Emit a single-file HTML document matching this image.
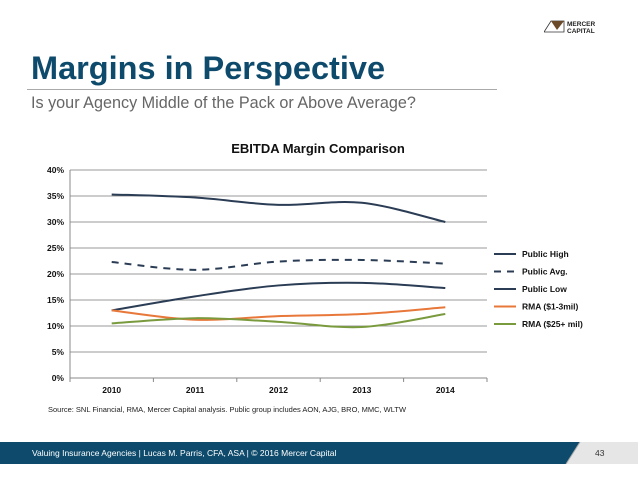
<!DOCTYPE html>
<html><head><meta charset="utf-8"><style>
body{margin:0;width:638px;height:479px;background:#fff;position:relative;overflow:hidden;font-family:"Liberation Sans",Arial,sans-serif}
.abs{position:absolute}
</style></head><body>
<div class="abs" style="left:544px;top:17px;width:80px;height:18px">
<svg width="80" height="18"><polygon points="0,15 7,4 20,4 20,15" fill="none" stroke="#333" stroke-width="0.8"/><polygon points="7,4 20,4 13,13" fill="#6b4a2a"/><text x="23" y="9" font-size="6.5" font-weight="bold" fill="#222" font-family="Liberation Sans">MERCER</text><text x="23" y="16" font-size="6.5" font-weight="bold" fill="#222" font-family="Liberation Sans">CAPITAL</text></svg></div>
<div class="abs" style="left:31px;top:50px;font-size:32.5px;font-weight:bold;color:#0d4a6b">Margins in Perspective</div>
<div class="abs" style="left:27px;top:89px;width:470px;height:1px;background:#aaa"></div>
<div class="abs" style="left:31px;top:94px;font-size:16.2px;color:#666">Is your Agency Middle of the Pack or Above Average?</div>
<svg class="abs" style="left:0;top:0" width="638" height="479">
<text x="318" y="153" text-anchor="middle" font-size="13" font-weight="bold" fill="#111">EBITDA Margin Comparison</text>
<g id="grid"></g><g id="lines"></g><g id="legend"></g>
<text x="48" y="412" font-size="7.5" fill="#222">Source: SNL Financial, RMA, Mercer Capital analysis.  Public group includes AON, AJG, BRO, MMC, WLTW</text>
</svg>
<div class="abs" style="left:0;top:442px;width:638px;height:22px;background:#0d4a6b"></div>
<svg class="abs" style="left:560px;top:442px" width="78" height="22"><polygon points="20,0 78,0 78,22 6,22" fill="#e6e6e6"/><line x1="20" y1="0" x2="6" y2="22" stroke="#aaa"/></svg>
<div class="abs" style="left:32px;top:448px;font-size:8.5px;color:#fff">Valuing Insurance Agencies | Lucas M. Parris, CFA, ASA | © 2016 Mercer Capital</div>
<div class="abs" style="left:595px;top:448px;font-size:8.5px;color:#333">43</div>
<script>
const categories=["2010","2011","2012","2013","2014"];
const yTicks=[0,5,10,15,20,25,30,35,40];
const seriesNames=["Public High","Public Avg.","Public Low","RMA ($1-3mil)","RMA ($25+ mil)"];
const publicHigh=[35.3,34.7,33.3,33.7,30.0];
const publicAvg=[22.3,20.8,22.4,22.7,22.0];
const publicLow=[13.0,15.7,17.8,18.3,17.3];
const rmaSmall=[13.0,11.2,11.9,12.3,13.6];
const rmaLarge=[10.5,11.5,10.8,9.8,12.3];
const NS="http://www.w3.org/2000/svg";
const X0=70,X1=487,Y0=378,Y1=170;
const band=(X1-X0)/categories.length;
const xs=i=>X0+band*(i+0.5);
const ys=v=>Y0-(v/40)*(Y0-Y1);
function mk(t,a,p){const e=document.createElementNS(NS,t);for(const k in a)e.setAttribute(k,a[k]);p.appendChild(e);return e;}
const grid=document.getElementById('grid');
yTicks.forEach(t=>{
 const l=mk('line',{x1:X0,x2:X1,y1:ys(t),y2:ys(t),stroke:t?'#999':'#888','stroke-width':1},grid);
 
 
 const tx=mk('text',{x:X0-6,y:ys(t)+3,'text-anchor':'end','font-size':8.5,'font-weight':'bold',fill:'#111'},grid);
 tx.textContent=t+'%';
 
 
});
mk('line',{x1:X0,x2:X0,y1:Y1,y2:Y0,stroke:'#888'},grid);
for(let i=0;i<=categories.length;i++)mk('line',{x1:X0+band*i,x2:X0+band*i,y1:Y0,y2:Y0+4,stroke:'#888'},grid);
categories.forEach((c,i)=>{const t=mk('text',{x:xs(i),y:Y0+15,'text-anchor':'middle','font-size':8.5,'font-weight':'bold',fill:'#111'},grid);t.textContent=c;
 
 });
function path(vals){const p=vals.map((v,i)=>[xs(i),ys(v)]);let d='M'+p[0][0]+','+p[0][1];
 for(let i=0;i<p.length-1;i++){const a=p[Math.max(i-1,0)],b=p[i],c=p[i+1],e=p[Math.min(i+2,p.length-1)];
 const c1=[b[0]+(c[0]-a[0])/6,b[1]+(c[1]-a[1])/6],c2=[c[0]-(e[0]-b[0])/6,c[1]-(e[1]-b[1])/6];
 d+=` C${c1[0]},${c1[1]} ${c2[0]},${c2[1]} ${c[0]},${c[1]}`;}return d;}
const all=[publicHigh,publicAvg,publicLow,rmaSmall,rmaLarge];
const cols=["#2b3d55","#2b3d55","#2b3d55","#e8773a","#7a9a3e"];
const dash=["","7,6","","",""];
const lg=document.getElementById('lines'),leg=document.getElementById('legend');
all.forEach((s,k)=>{
 const p=mk('path',{d:path(s),fill:'none',stroke:cols[k],'stroke-width':2,'stroke-dasharray':dash[k]},lg);
 
 
 const y=254+k*17.5;
 const l=mk('line',{x1:494,x2:516,y1:y,y2:y,stroke:cols[k],'stroke-width':2,'stroke-dasharray':dash[k]?'7,6':''},leg);
 
 
 const t=mk('text',{x:522,y:y+3,'font-size':8.5,'font-weight':'bold',fill:'#111'},leg);t.textContent=seriesNames[k];
 
 
});
</script>
</body></html>
